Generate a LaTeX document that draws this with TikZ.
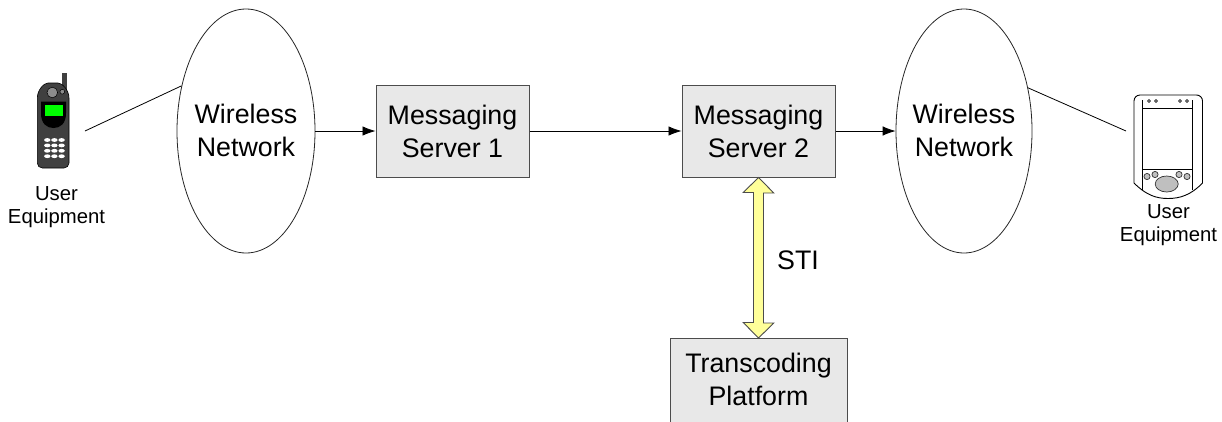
\documentclass[tikz,border=0pt]{standalone}
\usepackage{fontspec}
\setmainfont{Liberation Sans}
\usetikzlibrary{shapes.geometric,arrows.meta}
\definecolor{stiy}{RGB}{255,255,153}
\definecolor{phonebody}{RGB}{64,64,64}
\newcommand{\zw}[1]{\raisebox{1.7pt}{\makebox[0pt]{#1}}}
\tikzset{
  x=1pt,y=-1pt,
  net/.style={draw=black!85,line width=0.8pt,fill=white,ellipse,minimum height=244pt,inner sep=0pt,align=center,font=\fontsize{26.8}{33}\selectfont},
  srv/.style={draw=black!70,line width=1pt,fill=black!9,minimum height=92pt,inner sep=0pt,align=center,font=\fontsize{26.8}{33}\selectfont},
  lbl/.style={align=center,inner sep=0pt,font=\fontsize{20.3}{23.5}\selectfont},
  link/.style={line width=0.8pt},
  arr/.style={line width=0.8pt,-{Latex[length=13pt,width=9.5pt]}},
  pda/.style={draw=black,line width=0.9pt},
  pdabtn/.style={draw=black!80,line width=0.7pt,fill=black!25},
}
\begin{document}
\begin{tikzpicture}
\useasboundingbox (0,0) rectangle (1222,421);
\node[net,minimum width=138pt] (w1) at (246,131) {\zw{Wireless}\\\zw{Network}};
\node[net,minimum width=136pt] (w2) at (964,131) {\zw{Wireless}\\\zw{Network}};
\node[srv,minimum width=153pt] (s1) at (452.5,131) {Messaging\\Server 1};
\node[srv,minimum width=153pt] (s2) at (758.5,131) {Messaging\\Server 2};
\begin{scope}
\clip (0,0) rectangle (1222,421);
\node[srv,minimum width=177pt,minimum height=100pt,anchor=north] (tp) at (758.5,338) {};
\end{scope}
\node[align=center,inner sep=0pt,font=\fontsize{26.8}{33}\selectfont] (tpl) at (758.5,379.5) {Transcoding\\Platform};
\node[lbl] (ue1) at (56.5,207) {User\\Equipment};
\node[lbl] (ue2) at (1168.5,225) {User\\Equipment};
\node[inner sep=0pt,font=\fontsize{26.8}{32}\selectfont] (sti) at (798,260) {STI};
\coordinate (p1) at (85,131);
\coordinate (p2) at (1126,131);
\draw[link] (p1) -- (w1.145.7);
\draw[link] (w2.34.3) -- (p2);
\draw[arr] (w1.east) -- (s1.west);
\draw[arr] (s1.east) -- (s2.west);
\draw[arr] (s2.east) -- (w2.west);
\draw[draw=black!70,line width=0.9pt,fill=stiy]
 (s2.south) -- ++(15.3,15.5) -- ++(-10.3,0) -- ++(0,130) -- ++(10.3,0) -- (tp.north) -- ++(-15.3,-15.5) -- ++(10.3,0) -- ++(0,-130) -- ++(-10.3,0) -- cycle;
% phone
\fill[phonebody] (61.7,73) rectangle (66.7,90);
\draw[black,line width=0.6pt,fill=phonebody,rounded corners=5pt]
 (37.3,103) .. controls (37.3,90) and (44,83) .. (53,83) .. controls (62,83) and (69,90) .. (69,103) -- (69,168) -- (37.3,168) -- cycle;
\fill[black] (41,101.7) -- (66,101.7) -- (66,113) .. controls (66,124) and (60,128) .. (53.5,128) .. controls (47,128) and (41,124) .. (41,113) -- cycle;
\fill[green] (45,105) rectangle (63.3,116);
\filldraw[fill=black!45,draw=black,line width=0.5pt] (52.3,92.5) circle (5.3);
\filldraw[fill=black!45,draw=black,line width=0.5pt] (62.3,91.7) circle (2.4);
\foreach \ky in {140,145.4,150.8,156.2}
  \foreach \kx in {47.3,54.4,61.6}
    \fill[white] (\kx,\ky) ellipse (3.2 and 1.9);
% PDA
\draw[pda,fill=white,rounded corners=6pt] (1134,183) -- (1134,95) -- (1202.5,95) -- (1202.5,183);
\draw[pda,fill=white] (1134,183) .. controls (1146,195) and (1156,198.5) .. (1168,198.5) .. controls (1180,198.5) and (1191,195) .. (1202.5,183);
\draw[pda] (1142.7,100) -- (1142.7,190);
\draw[pda] (1192.7,100) -- (1192.7,190);
\draw[pda] (1142.7,108) rectangle (1192.7,169.3);
\foreach \bx/\by in {1147/176.5,1155/174.5,1179/174.5,1187/176.5}
  \filldraw[pdabtn] (\bx,\by) circle (3.1);
\filldraw[pdabtn] (1166.7,184) ellipse (11.5 and 8);
\foreach \bx in {1149,1156,1180,1187}
  \filldraw[draw=black,line width=0.6pt,fill=black!25] (\bx,101) circle (1.5);
\end{tikzpicture}
\end{document}
